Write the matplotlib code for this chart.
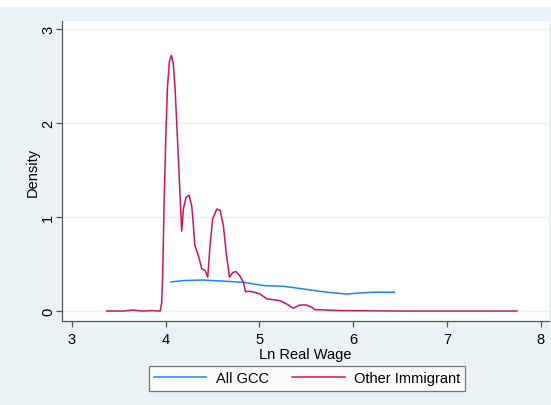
import matplotlib
matplotlib.use("Agg")
import matplotlib.pyplot as plt
from matplotlib.patches import Rectangle

plt.rcParams['font.family'] = ['Liberation Sans', 'DejaVu Sans']

# Kernel density estimates of log real wage
gcc_x = [4.057, 4.20, 4.40, 4.58, 4.83, 5.006, 5.06, 5.255, 5.43, 5.68, 5.93, 6.04, 6.215, 6.44]
gcc_y = [0.310, 0.325, 0.330, 0.320, 0.305, 0.277, 0.270, 0.263, 0.240, 0.205, 0.180, 0.190, 0.200, 0.200]

imm_x = [3.37, 3.55, 3.65, 3.75, 3.85, 3.94, 3.957, 3.968, 3.982, 4.000, 4.017, 4.038,
         4.060, 4.081, 4.100, 4.117, 4.145, 4.170, 4.188, 4.217, 4.250, 4.277, 4.295,
         4.310, 4.348, 4.384, 4.420, 4.448, 4.473, 4.500, 4.544, 4.580, 4.615, 4.645,
         4.680, 4.715, 4.750, 4.790, 4.830, 4.850, 4.890, 4.950, 5.006, 5.08, 5.15,
         5.22, 5.29, 5.36, 5.43, 5.50, 5.56, 5.59, 5.86, 6.5, 7.2, 7.746]
imm_y = [0.0, 0.0, 0.01, 0.0, 0.005, 0.0, 0.09, 0.41, 1.12, 1.83, 2.36, 2.65,
         2.72, 2.63, 2.36, 2.00, 1.40, 0.85, 1.085, 1.21, 1.23, 1.12, 0.91,
         0.70, 0.59, 0.45, 0.43, 0.36, 0.70, 0.98, 1.085, 1.07, 0.91, 0.62,
         0.36, 0.41, 0.42, 0.375, 0.305, 0.205, 0.21, 0.20, 0.18, 0.13, 0.12,
         0.11, 0.075, 0.03, 0.064, 0.064, 0.04, 0.015, 0.005, 0.0, 0.0, 0.0]

x_ticks = [3, 4, 5, 6, 7, 8]
y_ticks = [0, 1, 2, 3]

BG = '#eaf2f3'
AXC = '#555555'

W, H = 551, 406
fig = plt.figure(figsize=(W / 100, H / 100), dpi=100, facecolor=BG)
# white strip along the top edge
fig.patches.append(Rectangle((0, 1 - 8 / H), 1, 8 / H, transform=fig.transFigure,
                             facecolor='white', edgecolor='none', zorder=0))

ax = fig.add_axes([62 / W, 1 - 322 / H, (549 - 62) / W, (322 - 22) / H])
ax.set_facecolor('white')

ax.plot(gcc_x, gcc_y, color='#1a85ff', lw=1.1, label='All GCC', zorder=3)
ax.plot(imm_x, imm_y, color='#d41159', lw=1.1, label='Other Immigrant', zorder=3)

ax.set_xlim(2.893, 8.089)
ax.set_ylim(-0.106, 3.085)
ax.set_xticks(x_ticks)
ax.set_yticks(y_ticks)
ax.grid(axis='y', color=BG, lw=1.0, zorder=1)
ax.set_axisbelow(True)

for s in ['top', 'right']:
    ax.spines[s].set_visible(False)
for s in ['left', 'bottom']:
    ax.spines[s].set_color(AXC)
    ax.spines[s].set_linewidth(0.9)

ax.tick_params(axis='both', colors=AXC, labelcolor='black', length=4, width=0.9,
               labelsize=10.5)
ax.tick_params(axis='x', pad=4)
ax.tick_params(axis='y', pad=1)
for lab in ax.get_yticklabels():
    lab.set_rotation(90)
    lab.set_va('center')

ax.set_ylabel('Density', fontsize=10.5, labelpad=1)
ax.set_xlabel('Ln Real Wage', fontsize=10.5, labelpad=1)

leg = fig.legend(loc='center', bbox_to_anchor=((151 + 463) / 2 / W, 1 - 379.5 / H),
                 ncol=2, frameon=True, fancybox=False, fontsize=10.5,
                 handlelength=3.6, columnspacing=1.6, handletextpad=0.65,
                 borderpad=0.35, borderaxespad=0)
leg.get_frame().set_edgecolor('#555555')
leg.get_frame().set_linewidth(0.9)
leg.get_frame().set_facecolor('white')

fig.savefig('out.png', dpi=100, facecolor=BG)
